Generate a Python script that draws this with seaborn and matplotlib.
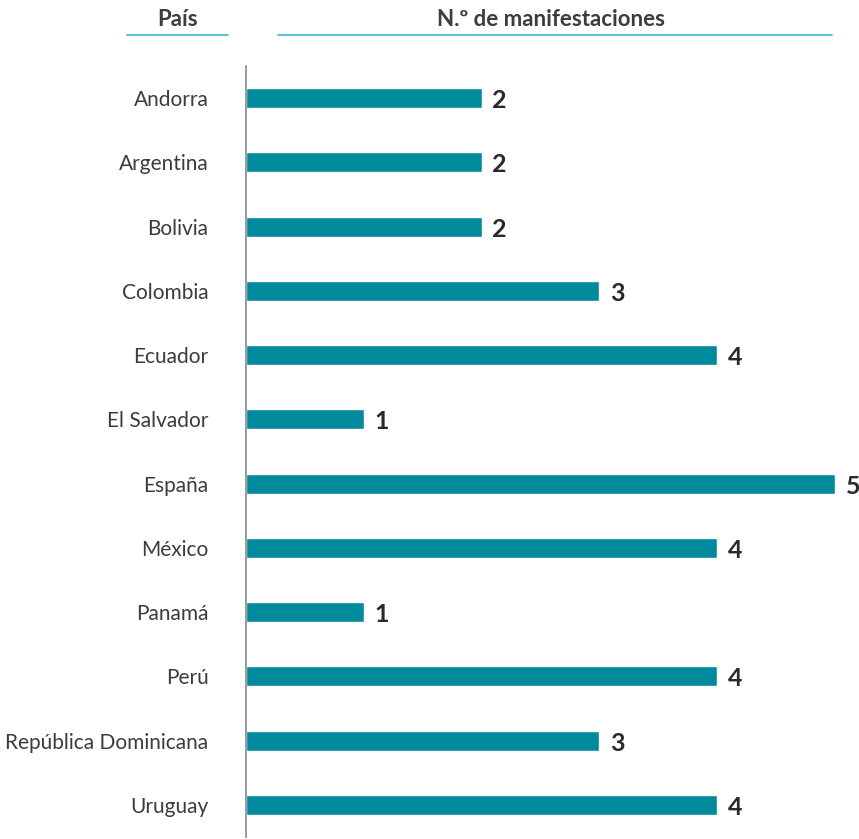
import matplotlib
matplotlib.use("Agg")
import matplotlib.pyplot as plt
import seaborn as sns
import pandas as pd

paises = ["Andorra", "Argentina", "Bolivia", "Colombia", "Ecuador", "El Salvador",
          "España", "México", "Panamá", "Perú", "República Dominicana", "Uruguay"]
manifestaciones = [2, 2, 2, 3, 4, 1, 5, 4, 1, 4, 3, 4]

df = pd.DataFrame({"pais": paises, "n": manifestaciones})

sns.set_style("white")
plt.rcParams['font.family'] = ['Lato', 'DejaVu Sans']

bar_color = "#008a9c"
line_color = "#3ab4d4"
text_color = "#3c3c3c"

fig = plt.figure(figsize=(8.59, 8.39), dpi=100)
ax = fig.add_axes([246 / 859, 2 / 839, (835 - 246) / 859, (837 - 66) / 839])

sns.barplot(data=df, x="n", y="pais", orient="h", color=bar_color, width=0.31,
            saturation=1, ax=ax)

ax.set_xlim(0, 5)
ax.set_ylim(11.5, -0.5)
ax.set_xlabel("")
ax.set_ylabel("")
ax.set_xticks([])
ax.tick_params(axis="y", length=0, pad=27, labelsize=15, labelcolor=text_color)
for s in ["top", "right", "bottom"]:
    ax.spines[s].set_visible(False)
ax.spines["left"].set_color("#8a8a8a")
ax.spines["left"].set_linewidth(1.2)

for i, v in enumerate(manifestaciones):
    ax.text(v + 0.09, i + 0.04, str(v), va="center", ha="left", fontsize=18,
            fontweight="bold", color="#2a2a2a", clip_on=False)

# cabeceras
fig.text(178 / 859, 1 - 20 / 839, "País", ha="center", va="center",
         fontsize=16, fontweight="bold", color=text_color)
fig.text(551 / 859, 1 - 20 / 839, "N.º de manifestaciones", ha="center", va="center",
         fontsize=16, fontweight="bold", color=text_color)
y_line = 1 - 35 / 839
fig.add_artist(plt.Line2D([127 / 859, 228 / 859], [y_line, y_line], color=line_color, lw=1.2))
fig.add_artist(plt.Line2D([278 / 859, 832 / 859], [y_line, y_line], color=line_color, lw=1.2))

fig.savefig("out.png", dpi=100)
